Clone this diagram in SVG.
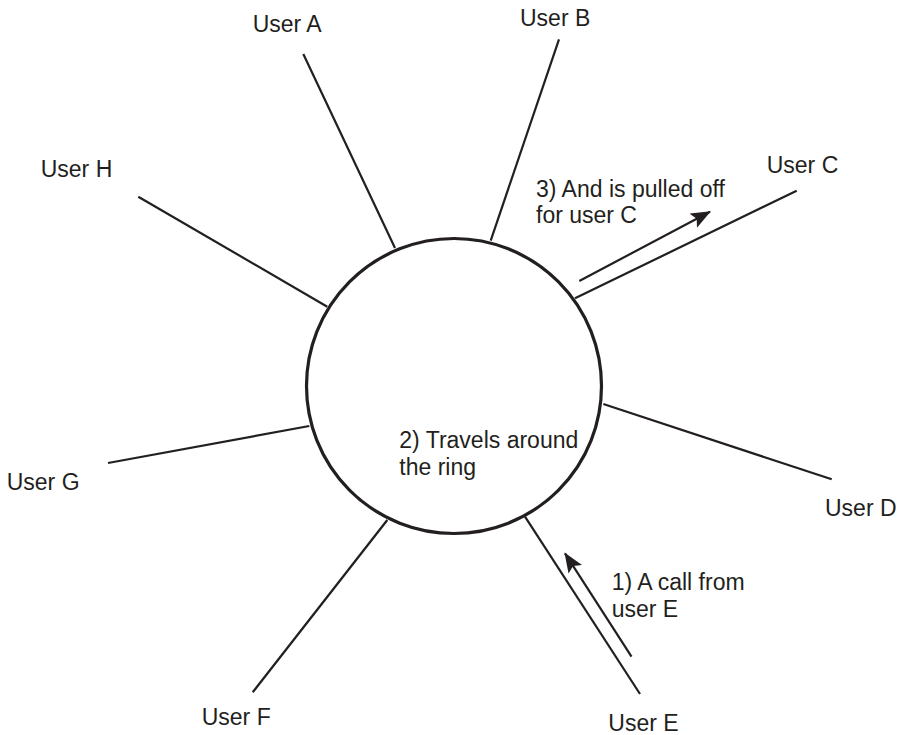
<svg xmlns="http://www.w3.org/2000/svg" width="901" height="735" viewBox="0 0 901 735">
<style>
text{font-family:"Liberation Sans",Arial,sans-serif;font-size:23px;fill:#231f20}
.spoke{stroke:#231f20;stroke-width:2.2;fill:none}
.flow{stroke:#231f20;stroke-width:2.2;fill:none;marker-end:url(#ah)}
.ring{stroke:#231f20;stroke-width:3.2;fill:#fff}
</style>
<defs>
<marker id="ah" markerUnits="userSpaceOnUse" markerWidth="22" markerHeight="18" refX="19" refY="8" orient="auto">
<path d="M0,0 L20,8 L0,16 L4,8 z" fill="#231f20"/>
</marker>
</defs>
<g id="connectors">
<line class="spoke" x1="303.3" y1="54" x2="395" y2="248"/>
<line class="spoke" x1="559" y1="39.3" x2="490.7" y2="240.7"/>
<line class="spoke" x1="796.7" y1="190.7" x2="575" y2="298.3"/>
<line class="spoke" x1="603.3" y1="404" x2="831.7" y2="479.3"/>
<line class="spoke" x1="525" y1="516.7" x2="640" y2="694"/>
<line class="spoke" x1="387.3" y1="520" x2="252.7" y2="692.3"/>
<line class="spoke" x1="309.3" y1="426" x2="108" y2="463"/>
<line class="spoke" x1="327.3" y1="306.7" x2="138.3" y2="196.7"/>
<line class="flow" x1="631.5" y1="656.7" x2="565" y2="553.3"/>
<line class="flow" x1="501.7" y1="509.3" x2="390" y2="486.7"/>
<line class="flow" x1="579.3" y1="281" x2="710" y2="211.7"/>
</g>
<g id="ring"><circle class="ring" cx="454" cy="386" r="147.5"/></g>
<g id="userA"><text x="252.7" y="32.3">User A</text></g>
<g id="userB"><text x="520" y="26">User B</text></g>
<g id="userC"><text x="766.7" y="173">User C</text></g>
<g id="userD"><text x="825" y="516">User D</text></g>
<g id="userE"><text x="608.3" y="731">User E</text></g>
<g id="userF"><text x="201.7" y="725">User F</text></g>
<g id="userG"><text x="6.7" y="490">User G</text></g>
<g id="userH"><text x="40.7" y="176.7">User H</text></g>
<g id="label1"><text x="611.7" y="590">1) A call from</text><text x="611.7" y="616.7">user E</text></g>
<g id="label2"><text x="399.3" y="448">2) Travels around</text><text x="399.3" y="475">the ring</text></g>
<g id="label3"><text x="536" y="196.7">3) And is pulled off</text><text x="536" y="222.7">for user C</text></g>
</svg>
